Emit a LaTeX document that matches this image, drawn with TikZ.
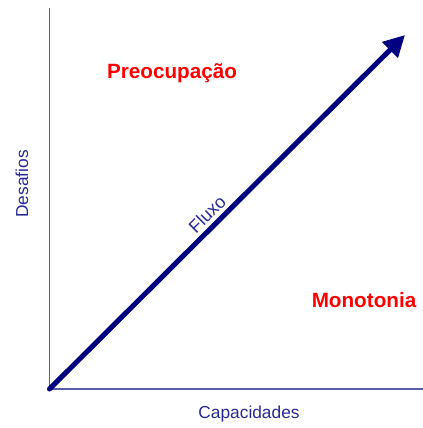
\documentclass[tikz,border=0pt]{standalone}
\usepackage{fontspec}
\setmainfont{Liberation Sans}
\usetikzlibrary{arrows.meta}
\definecolor{fluxnavy}{RGB}{0,0,128}
\definecolor{axisblue}{RGB}{90,90,170}
\definecolor{labelblue}{RGB}{40,40,150}
\definecolor{zonered}{RGB}{255,0,0}
\begin{document}
\begin{tikzpicture}[x=0.75pt,y=0.75pt]
  \tikzstyle{axis}=[draw=axisblue,line width=1pt]
  \tikzstyle{axislabel}=[text=labelblue,font=\fontsize{13}{15}\selectfont,inner sep=0pt]
  \tikzstyle{zone}=[text=zonered,font=\fontsize{15.5}{18}\selectfont\bfseries,inner sep=0pt]
  \useasboundingbox (0,-428) rectangle (423,0);

  \coordinate (O) at (49.5,-389);
  \coordinate (Ytop) at (49.5,-8);
  \coordinate (Xend) at (423,-389);
  \coordinate (Ftip) at (405,-35);

  % eixos
  \draw[axis] (Ytop) -- (O) -- (Xend);

  \node[axislabel,rotate=90] (desafios) at (22,-184) {Desafios};
  \node[axislabel] (capacidades) at (249,-414) {Capacidades};

  \node[zone] (preoc) at (172,-73) {Preocupação};
  \node[zone] (monot) at (364,-300) {Monotonia};

  % canal de fluxo
  \draw[fluxnavy,line width=3.8pt,line cap=round,-{Triangle[length=16pt,width=16pt]}]
    (O) -- (Ftip) node[pos=0.468,sloped,above=2.5pt,text=labelblue,
      font=\fontsize{13.5}{15}\selectfont,inner sep=0pt] (fluxo) {Fluxo};
\end{tikzpicture}
\end{document}
